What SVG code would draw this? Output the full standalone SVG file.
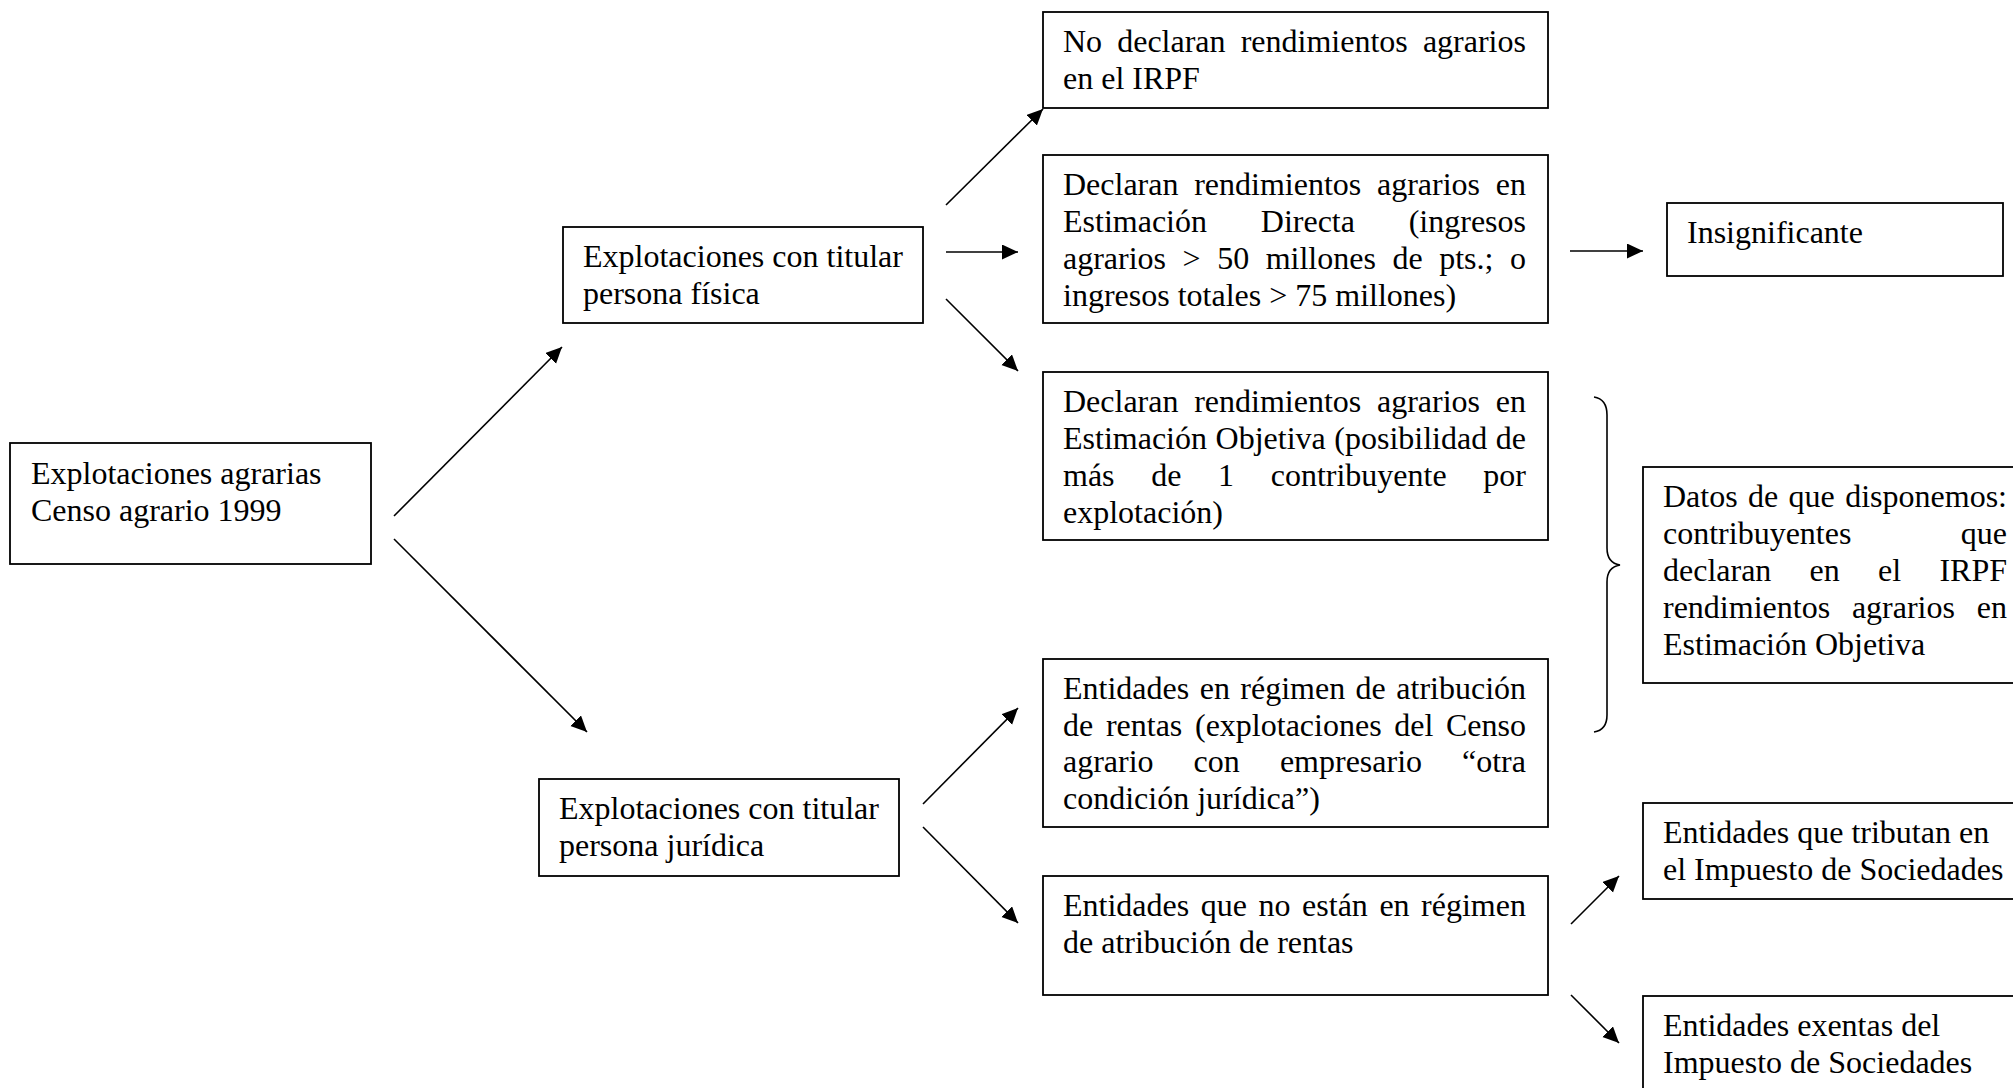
<svg xmlns="http://www.w3.org/2000/svg" width="2013" height="1088" viewBox="0 0 2013 1088">
<style>
.box{fill:#fff;stroke:#000;stroke-width:1.8}
.t{font-family:"Liberation Serif","Times New Roman",serif;font-size:32px;fill:#000}
.c{fill:none;stroke:#000;stroke-width:1.6}
</style>
<defs>
<marker id="ah" markerUnits="userSpaceOnUse" markerWidth="17" markerHeight="16" refX="16" refY="7.5" orient="auto" viewBox="0 0 17 16">
<path d="M0,0 L16,7.5 L0,15 Z" fill="#000"/>
</marker>
</defs>
<rect width="2013" height="1088" fill="#fff"/>

<g id="connectors">
<line class="c" x1="394" y1="516" x2="562" y2="347" marker-end="url(#ah)"/>
<line class="c" x1="394" y1="539" x2="587" y2="732" marker-end="url(#ah)"/>
<line class="c" x1="946" y1="205" x2="1043" y2="109" marker-end="url(#ah)"/>
<line class="c" x1="946" y1="252" x2="1018" y2="252" marker-end="url(#ah)"/>
<line class="c" x1="946" y1="299" x2="1018" y2="371" marker-end="url(#ah)"/>
<line class="c" x1="1570" y1="251" x2="1643" y2="251" marker-end="url(#ah)"/>
<line class="c" x1="923" y1="804" x2="1018" y2="708" marker-end="url(#ah)"/>
<line class="c" x1="923" y1="827" x2="1018" y2="923" marker-end="url(#ah)"/>
<line class="c" x1="1571" y1="924" x2="1619" y2="876" marker-end="url(#ah)"/>
<line class="c" x1="1571" y1="995" x2="1619" y2="1043" marker-end="url(#ah)"/>
<path class="c" d="M1594,397 Q1607,399 1607,415 L1607,548 Q1607,563 1620,565 Q1607,567 1607,582 L1607,715 Q1607,730 1594,732"/>
</g>

<g id="n-censo">
<rect class="box" x="10" y="443" width="361" height="121"/>
<text class="t" x="31" y="483.5">Explotaciones agrarias</text>
<text class="t" x="31" y="520.5">Censo agrario 1999</text>
</g>

<g id="n-fisica">
<rect class="box" x="563" y="227" width="360" height="96"/>
<text class="t" x="583" y="267">Explotaciones con titular</text>
<text class="t" x="583" y="304">persona física</text>
</g>

<g id="n-juridica">
<rect class="box" x="539" y="779" width="360" height="97"/>
<text class="t" x="559" y="819">Explotaciones con titular</text>
<text class="t" x="559" y="856">persona jurídica</text>
</g>

<g id="n-nodeclaran">
<rect class="box" x="1043" y="12" width="505" height="96"/>
<text class="t" y="52"><tspan x="1063">No</tspan><tspan x="1117.2">declaran</tspan><tspan x="1240.7">rendimientos</tspan><tspan x="1422.9">agrarios</tspan></text>
<text class="t" x="1063" y="89">en el IRPF</text>
</g>

<g id="n-directa">
<rect class="box" x="1043" y="155" width="505" height="168"/>
<text class="t" y="194.5"><tspan x="1063">Declaran</tspan><tspan x="1194.2">rendimientos</tspan><tspan x="1377">agrarios</tspan><tspan x="1495.8">en</tspan></text>
<text class="t" y="231.5"><tspan x="1063">Estimación</tspan><tspan x="1260.8">Directa</tspan><tspan x="1408.7">(ingresos</tspan></text>
<text class="t" y="268.5"><tspan x="1063">agrarios</tspan><tspan x="1182.6">&gt;</tspan><tspan x="1217.2">50</tspan><tspan x="1265.7">millones</tspan><tspan x="1392.5">de</tspan><tspan x="1439.2">pts.;</tspan><tspan x="1510">o</tspan></text>
<text class="t" x="1063" y="305.5">ingresos totales &gt; 75 millones)</text>
</g>

<g id="n-insignificante">
<rect class="box" x="1667" y="203" width="336" height="73"/>
<text class="t" x="1687" y="243">Insignificante</text>
</g>

<g id="n-objetiva">
<rect class="box" x="1043" y="372" width="505" height="168"/>
<text class="t" y="412"><tspan x="1063">Declaran</tspan><tspan x="1194.2">rendimientos</tspan><tspan x="1377">agrarios</tspan><tspan x="1495.8">en</tspan></text>
<text class="t" y="449"><tspan x="1063">Estimación</tspan><tspan x="1215.6">Objetiva</tspan><tspan x="1334.3">(posibilidad</tspan><tspan x="1495.8">de</tspan></text>
<text class="t" y="486"><tspan x="1063">más</tspan><tspan x="1151.2">de</tspan><tspan x="1218.1">1</tspan><tspan x="1270.7">contribuyente</tspan><tspan x="1483.3">por</tspan></text>
<text class="t" x="1063" y="522.5">explotación)</text>
</g>

<g id="n-atribucion">
<rect class="box" x="1043" y="659" width="505" height="168"/>
<text class="t" y="698.5"><tspan x="1063">Entidades</tspan><tspan x="1199.7">en</tspan><tspan x="1240.3">régimen</tspan><tspan x="1355.6">de</tspan><tspan x="1396.3">atribución</tspan></text>
<text class="t" y="735.5"><tspan x="1063">de</tspan><tspan x="1105.9">rentas</tspan><tspan x="1195">(explotaciones</tspan><tspan x="1394.2">del</tspan><tspan x="1446">Censo</tspan></text>
<text class="t" y="772"><tspan x="1063">agrario</tspan><tspan x="1193.6">con</tspan><tspan x="1279.9">empresario</tspan><tspan x="1462">“otra</tspan></text>
<text class="t" x="1063" y="809">condición jurídica”)</text>
</g>

<g id="n-noatribucion">
<rect class="box" x="1043" y="876" width="505" height="119"/>
<text class="t" y="915.5"><tspan x="1063">Entidades</tspan><tspan x="1200.8">que</tspan><tspan x="1258.5">no</tspan><tspan x="1302.1">están</tspan><tspan x="1379.4">en</tspan><tspan x="1421.1">régimen</tspan></text>
<text class="t" x="1063" y="952.5">de atribución de rentas</text>
</g>

<g id="n-datos">
<rect class="box" x="1643" y="467" width="390" height="216"/>
<text class="t" y="507"><tspan x="1663">Datos</tspan><tspan x="1748">de</tspan><tspan x="1788.6">que</tspan><tspan x="1845.2">disponemos:</tspan></text>
<text class="t" y="544"><tspan x="1663">contribuyentes</tspan><tspan x="1960.8">que</tspan></text>
<text class="t" y="581"><tspan x="1663">declaran</tspan><tspan x="1809.6">en</tspan><tspan x="1878.1">el</tspan><tspan x="1939.4">IRPF</tspan></text>
<text class="t" y="618"><tspan x="1663">rendimientos</tspan><tspan x="1851.9">agrarios</tspan><tspan x="1976.8">en</tspan></text>
<text class="t" x="1663" y="655">Estimación Objetiva</text>
</g>

<g id="n-tributan">
<rect class="box" x="1643" y="803" width="390" height="96"/>
<text class="t" x="1663" y="843">Entidades que tributan en</text>
<text class="t" x="1663" y="880">el Impuesto de Sociedades</text>
</g>

<g id="n-exentas">
<rect class="box" x="1643" y="996" width="390" height="110"/>
<text class="t" x="1663" y="1036">Entidades exentas del</text>
<text class="t" x="1663" y="1073">Impuesto de Sociedades</text>
</g>
</svg>
